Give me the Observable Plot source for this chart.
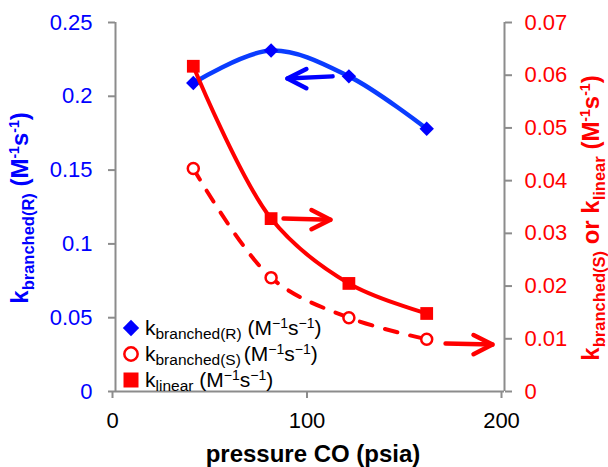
<!DOCTYPE html>
<html><head><meta charset="utf-8">
<script src="https://cdn.jsdelivr.net/npm/d3@7"></script>
<script src="https://cdn.jsdelivr.net/npm/@observablehq/plot@0.6"></script>
<style>body{margin:0;background:#fff} #chart{width:608px;height:467px;}</style>
</head><body><div id="chart"></div>
<script>
// ---- data ----
const pressure = [40, 80, 120, 160];
const kBranchedR = [0.209, 0.231, 0.2135, 0.178];     // left axis
const kBranchedS = [0.0423, 0.0216, 0.014, 0.0099];   // right axis
const kLinear = [0.0617, 0.0328, 0.0205, 0.0148];     // right axis
const xTicks = [0, 100, 200];
const leftTicks = [0, 0.05, 0.1, 0.15, 0.2, 0.25];
const rightTicks = [0, 0.01, 0.02, 0.03, 0.04, 0.05, 0.06, 0.07];
const leftMax = 0.25, rightMax = 0.07;
// annotation arrows (data units; y on the axis named in arrowAxis)
const arrowX1 = [111.6, 86.4, 169.7];
const arrowX2 = [88.4, 110.5, 193.8];
const arrowY1 = [0.2135, 0.0328, 0.0091];
const arrowY2 = [0.212, 0.0326, 0.0089];
const arrowAxis = ["left", "right", "right"];
const arrowSeries = ["R", "L", "S"];

const BLUE = "#0000ff", BLUE_LINE = "#0a3cff", RED = "#ff0000", GREY = "#8c8c8c";
const toLeft = v => v * leftMax / rightMax;
const fmt = d => d === 0 ? "0" : String(+d.toFixed(3));

const rowsR = pressure.map((p, i) => ({p, v: kBranchedR[i]}));
const rowsS = pressure.map((p, i) => ({p, v: toLeft(kBranchedS[i])}));
const rowsL = pressure.map((p, i) => ({p, v: toLeft(kLinear[i])}));
const arrows = arrowX1.map((x1, i) => {
  const f = arrowAxis[i] === "right" ? toLeft : (v => v);
  return {x1, x2: arrowX2[i], y1: f(arrowY1[i]), y2: f(arrowY2[i]),
          color: arrowSeries[i] === "R" ? BLUE : RED, rot: arrowX2[i] < x1 ? 180 : 0};
});
const chevron = {draw(ctx, size) {
  const L = Math.sqrt(size);
  ctx.moveTo(-L * 0.89, -L * 0.45); ctx.lineTo(0, 0); ctx.lineTo(-L * 0.89, L * 0.45);
}};

const plot = Plot.plot({
  width: 608, height: 467,
  marginLeft: 115, marginRight: 104, marginTop: 22, marginBottom: 76,
  style: {fontFamily: "Liberation Sans, Arial, sans-serif", fontSize: "22px", background: "white", overflow: "visible"},
  x: {domain: [0, 200], label: null},
  y: {domain: [0, leftMax], label: null},
  marks: [
    Plot.ruleX([0, 200], {stroke: GREY, strokeWidth: 2}),
    Plot.ruleY([0], {stroke: GREY, strokeWidth: 2}),
    Plot.axisY(leftTicks, {anchor: "left", tickSize: 7, tickPadding: 16, stroke: GREY, strokeWidth: 2, fill: BLUE, tickFormat: fmt, label: null}),
    Plot.axisY(rightTicks.map(toLeft), {anchor: "right", tickSize: 7, tickPadding: 13, stroke: GREY, strokeWidth: 2, fill: RED, tickFormat: d => fmt(d * rightMax / leftMax), label: null}),
    Plot.axisX(xTicks, {anchor: "bottom", tickSize: 7, tickPadding: 14, stroke: GREY, strokeWidth: 2, fill: "black", dx: -3, label: null}),
    Plot.line(rowsR, {x: "p", y: "v", curve: "catmull-rom", stroke: BLUE_LINE, strokeWidth: 4.5}),
    Plot.dot(rowsR, {x: "p", y: "v", symbol: "diamond2", r: 6.5, fill: BLUE, stroke: "none"}),
    Plot.line(rowsS, {x: "p", y: "v", curve: "catmull-rom", stroke: RED, strokeWidth: 4, strokeDasharray: "13,13", strokeLinecap: "round"}),
    Plot.dot(rowsS, {x: "p", y: "v", symbol: "circle", r: 5.5, fill: "white", stroke: RED, strokeWidth: 2.5}),
    Plot.line(rowsL, {x: "p", y: "v", curve: "catmull-rom", stroke: RED, strokeWidth: 4}),
    Plot.dot(rowsL, {x: "p", y: "v", symbol: "square", r: 7.2, fill: RED, stroke: "none"}),
    Plot.link(arrows, {x1: "x1", y1: "y1", x2: "x2", y2: "y2", stroke: "color", strokeWidth: 4.5, strokeLinecap: "round"}),
    Plot.dot(arrows, {x: "x2", y: "y2", symbol: chevron, r: 12, rotate: "rot", fill: "none", stroke: "color", strokeWidth: 4.5, strokeLinecap: "round", strokeLinejoin: "round"})
  ]
});
document.getElementById("chart").appendChild(plot);

// ---- rich text (subscripts / superscripts) ----
const svg = d3.select(plot);
function rich(g, parts, base) {
  const t = g.append("text").attr("style", "white-space:pre");
  Object.entries(base).forEach(([k, v]) => t.attr(k, v));
  let cur = 0;
  parts.forEach(p => {
    const s = p.shift || 0;
    const ts = t.append("tspan").attr("font-size", p.size).attr("dy", s - cur).text(p.t);
    if (p.dx) ts.attr("dx", p.dx);
    cur = s;
  });
  return t;
}
// x-axis title
svg.append("text").attr("x", 313).attr("y", 462).attr("text-anchor", "middle")
  .attr("font-weight", "bold").attr("font-size", 24).attr("fill", "black").text("pressure CO (psia)");
// left y label
const M = 24, SB = 16.5, SP = 14;
rich(svg.append("g").attr("transform", "translate(28,208) rotate(-90)"), [
  {t: "k", size: M}, {t: "branched(R)", size: SB, shift: 6}, {t: " (M", size: M},
  {t: "-1", size: SP, shift: -9}, {t: "s", size: M}, {t: "-1", size: SP, shift: -9}, {t: ")", size: M}
], {"text-anchor": "middle", "font-weight": "bold", fill: BLUE});
// right y label
rich(svg.append("g").attr("transform", "translate(599,218) rotate(-90)"), [
  {t: "k", size: M}, {t: "branched(S)", size: SB, shift: 6}, {t: " or ", size: M},
  {t: "k", size: M}, {t: "linear", size: SB, shift: 6}, {t: " (M", size: M},
  {t: "-1", size: SP, shift: -9}, {t: "s", size: M}, {t: "-1", size: SP, shift: -9}, {t: ")", size: M}
], {"text-anchor": "middle", "font-weight": "bold", fill: RED});

// ---- legend ----
const legendItems = [
  {sub: "branched(R)", unit: " (M", dx: 0, sym: d3.symbolDiamond2, size: 170, fill: BLUE, stroke: "none", sw: 0},
  {sub: "branched(S)", unit: "(M", dx: 3, sym: d3.symbolCircle, size: 140, fill: "white", stroke: RED, sw: 2.5},
  {sub: "linear", unit: " (M", dx: 0, sym: d3.symbolSquare, size: 225, fill: RED, stroke: "none", sw: 0}
];
const lg = svg.append("g");
legendItems.forEach((it, i) => {
  const cy = 328 + i * 26;
  lg.append("path").attr("transform", `translate(131,${cy})`)
    .attr("d", d3.symbol().type(it.sym).size(it.size)())
    .attr("fill", it.fill).attr("stroke", it.stroke).attr("stroke-width", it.sw);
  rich(lg, [
    {t: "k", size: 21}, {t: it.sub, size: 15.5, shift: 4}, {t: it.unit, size: 21, dx: it.dx},
    {t: "\u22121", size: 14, shift: -7}, {t: "s", size: 21}, {t: "\u22121", size: 14, shift: -7}, {t: ")", size: 21}
  ], {x: 145, y: cy + 7, fill: "black", "text-anchor": "start"});
});
</script></body></html>
